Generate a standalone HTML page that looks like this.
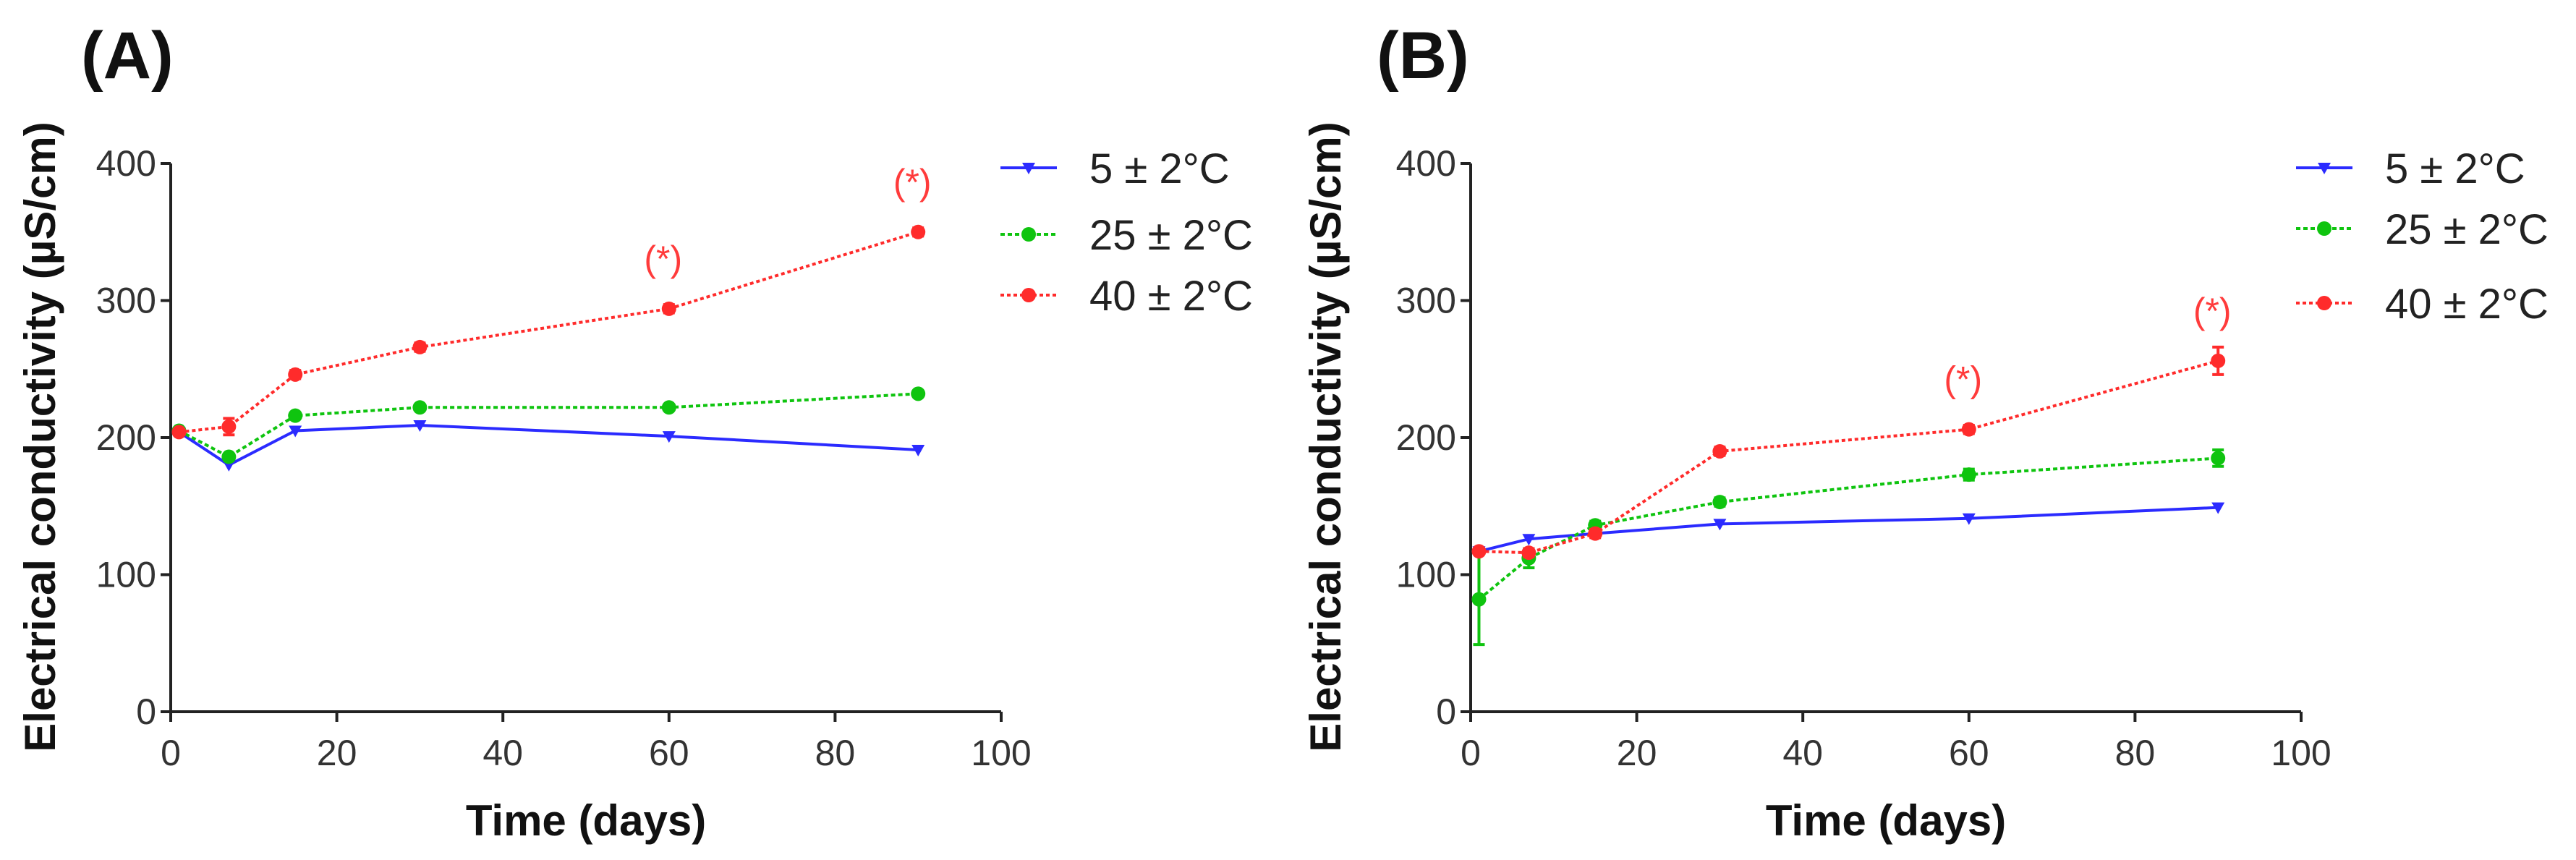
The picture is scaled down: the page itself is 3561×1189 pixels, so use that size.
<!DOCTYPE html>
<html><head><meta charset="utf-8"><style>
html,body{margin:0;padding:0;background:#fff;}
svg{display:block;font-family:"Liberation Sans",Arial,sans-serif;}
</style></head><body>
<svg id="chart" width="3561" height="1189" viewBox="0 0 3561 1189" xmlns="http://www.w3.org/2000/svg"></svg>
<script>
const days = [1, 7, 15, 30, 60, 90];
const xTicks = [0, 20, 40, 60, 80, 100];
const yTicks = [0, 100, 200, 300, 400];
const seriesLabels = ["5 ± 2°C", "25 ± 2°C", "40 ± 2°C"];
const a5 = [204, 180, 205, 209, 201, 191];
const a25 = [205, 186, 216, 222, 222, 232];
const a40 = [204, 208, 246, 266, 294, 350];
const a40err = [0, 6, 3, 3, 3, 3];
const b5 = [117, 126, 130, 137, 141, 149];
const b25 = [82, 112, 136, 153, 173, 185];
const b25err = [33, 7, 3, 3, 4, 6];
const b40 = [117, 116, 130, 190, 206, 256];
const b40err = [0, 3, 3, 3, 3, 10];
const starsA = [60, 90];
const starsB = [60, 90];

const NS = "http://www.w3.org/2000/svg";
const svg = document.getElementById("chart");
function mk(tag, attrs, parent) {
  const e = document.createElementNS(NS, tag);
  for (const k in attrs) e.setAttribute(k, attrs[k]);
  (parent || svg).appendChild(e);
  return e;
}
const colors = ["#2b2bff", "#0fc40f", "#ff2b2b"];
const dashes = [null, "6 4", "5 4"];

function panel(cfg) {
  const g = mk("g", {});
  
  
  const X = v => cfg.x0 + (v / 100) * (cfg.x1 - cfg.x0);
  const Y = v => cfg.y0 + (v / 400) * (cfg.y1 - cfg.y0);
  const lab = mk("text", {x: cfg.labX, y: 108, "font-size": 92, "font-weight": "bold", fill: "#111"}, g);
  lab.textContent = cfg.letter;
  
  
  // axes
  const ax = mk("path", {d: `M${cfg.x0},${Y(400)} V${cfg.y0} H${cfg.x1}`, stroke: "#222", "stroke-width": 4, fill: "none"}, g);
  
  
  yTicks.forEach(t => {
    mk("line", {x1: cfg.x0 - 14, x2: cfg.x0, y1: Y(t), y2: Y(t), stroke: "#222", "stroke-width": 4}, g);
    const tx = mk("text", {x: cfg.x0 - 20, y: Y(t) + 17, "font-size": 50, "text-anchor": "end", fill: "#333"}, g);
    tx.textContent = t;
    
    
  });
  xTicks.forEach(t => {
    mk("line", {x1: X(t), x2: X(t), y1: cfg.y0, y2: cfg.y0 + 14, stroke: "#222", "stroke-width": 4}, g);
    const tx = mk("text", {x: X(t), y: cfg.y0 + 74, "font-size": 50, "text-anchor": "middle", fill: "#333"}, g);
    tx.textContent = t;
    
    
  });
  const xt = mk("text", {x: (cfg.x0 + cfg.x1) / 2, y: 1155, "font-size": 60, "font-weight": "bold", "text-anchor": "middle", fill: "#111"}, g);
  xt.textContent = "Time (days)";
  
  
  const yt = mk("text", {x: 0, y: 0, "font-size": 60, "font-weight": "bold", "text-anchor": "middle", fill: "#111", transform: `translate(${cfg.ytX},604) rotate(-90)`}, g);
  yt.textContent = "Electrical conductivity (µS/cm)";
  
  

  cfg.series.forEach((s, i) => {
    const sg = mk("g", {}, g);
    
    
    const pts = days.map((d, j) => X(d) + "," + Y(s.v[j])).join(" ");
    const pl = mk("polyline", {points: pts, fill: "none", stroke: colors[i], "stroke-width": 4}, sg);
    if (dashes[i]) pl.setAttribute("stroke-dasharray", dashes[i]);
    
    
    days.forEach((d, j) => {
      const e = s.err ? s.err[j] : 0;
      if (e > 0) {
        const eb = mk("path", {d: `M${X(d)},${Y(s.v[j] - e)} V${Y(s.v[j] + e)} M${X(d) - 8},${Y(s.v[j] - e)} h16 M${X(d) - 8},${Y(s.v[j] + e)} h16`, stroke: colors[i], "stroke-width": 4, fill: "none"}, sg);
        
        
      }
      let m;
      if (i === 0) {
        const cx = X(d), cy = Y(s.v[j]);
        m = mk("polygon", {points: `${cx - 9},${cy - 7} ${cx + 9},${cy - 7} ${cx},${cy + 9}`, fill: colors[i]}, sg);
      } else {
        m = mk("circle", {cx: X(d), cy: Y(s.v[j]), r: 10, fill: colors[i]}, sg);
      }
      
      
    });
  });
  cfg.stars.forEach(d => {
    const j = days.indexOf(d);
    const st = mk("text", {x: X(d) - 8, y: Y(cfg.series[2].v[j]) - 52, "font-size": 50, "text-anchor": "middle", fill: "#ff3b3b"}, g);
    st.textContent = "(*)";
    
    
  });
  // legend
  cfg.legY.forEach((ly, i) => {
    const lg = mk("g", {}, g);
    
    
    const ln = mk("line", {x1: cfg.legX, x2: cfg.legX + 78, y1: ly, y2: ly, stroke: colors[i], "stroke-width": 4}, lg);
    if (dashes[i]) ln.setAttribute("stroke-dasharray", dashes[i]);
    const cx = cfg.legX + 39;
    if (i === 0) mk("polygon", {points: `${cx - 9},${ly - 7} ${cx + 9},${ly - 7} ${cx},${ly + 9}`, fill: colors[i]}, lg);
    else mk("circle", {cx: cx, cy: ly, r: 10, fill: colors[i]}, lg);
    const t = mk("text", {x: cfg.legX + 123, y: ly + 21, "font-size": 58, fill: "#222"}, lg);
    t.textContent = seriesLabels[i];
  });
}

panel({name: "panel-a", letter: "(A)", labX: 112, x0: 236, x1: 1384, y0: 984, y1: 226, ytX: 76,
  series: [{v: a5}, {v: a25}, {v: a40, err: a40err}], stars: starsA,
  legX: 1383, legY: [232, 324, 408]});
panel({name: "panel-b", letter: "(B)", labX: 1903, x0: 2033, x1: 3181, y0: 984, y1: 226, ytX: 1853,
  series: [{v: b5}, {v: b25, err: b25err}, {v: b40, err: b40err}], stars: starsB,
  legX: 3174, legY: [232, 316, 419]});
</script>
</body></html>
